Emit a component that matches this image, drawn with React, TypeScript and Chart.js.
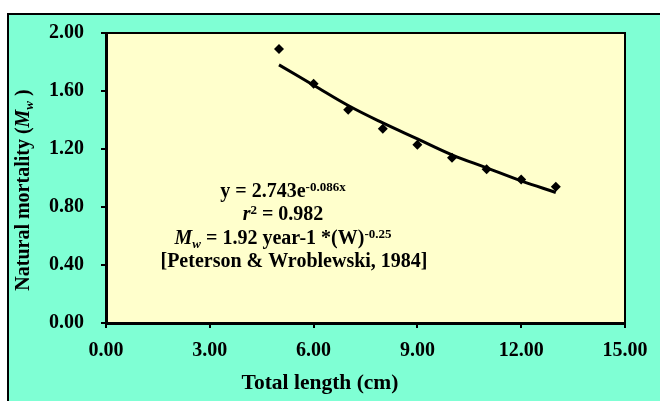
import React, { useEffect, useRef } from "react";
import { Chart, registerables } from "chart.js";

Chart.register(...registerables);

// ---- data ----
const lengths = [5, 6, 7, 8, 9, 10, 11, 12, 13];
const mortality = [1.89, 1.65, 1.47, 1.34, 1.23, 1.14, 1.06, 0.99, 0.94];
const trendFit = [1.78, 1.64, 1.5, 1.38, 1.27, 1.16, 1.07, 0.98, 0.9];
const xTicks = [0, 3, 6, 9, 12, 15];
const yTicks = [0, 0.4, 0.8, 1.2, 1.6, 2.0];
const xTitle = "Total length (cm)";
const yTitleMain = "Natural mortality (";
const annotation4 = "[Peterson & Wroblewski, 1984]";

const FAM = "'Liberation Serif', 'Times New Roman', serif";
const B = `bold 20px ${FAM}`;
const BX = `bold 21.5px ${FAM}`;
const BI = `italic bold 20px ${FAM}`;
const SUP = `bold 13px ${FAM}`;
const SUBI = `italic bold 13px ${FAM}`;

type Run = { t: string; f: string; dy?: number };

function drawRuns(ctx: CanvasRenderingContext2D, runs: Run[], cx: number, y: number) {
  let w = 0;
  for (const r of runs) {
    ctx.font = r.f;
    w += ctx.measureText(r.t).width;
  }
  let x = cx - w / 2;
  for (const r of runs) {
    ctx.font = r.f;
    ctx.fillText(r.t, x, y + (r.dy || 0));
    x += ctx.measureText(r.t).width;
  }
}

const decor = {
  id: "decor",
  beforeDraw(chart: any) {
    const { ctx, chartArea: ca } = chart;
    ctx.save();
    ctx.fillStyle = "#ffffff";
    ctx.fillRect(0, 0, chart.width, chart.height);
    ctx.fillStyle = "#7FFFD4";
    ctx.fillRect(8, 14, chart.width, chart.height);
    ctx.strokeStyle = "#000";
    ctx.lineWidth = 2;
    ctx.strokeRect(8, 14, chart.width + 20, chart.height + 20);
    ctx.fillStyle = "#FFFFCC";
    ctx.fillRect(ca.left, ca.top, ca.right - ca.left, ca.bottom - ca.top);
    ctx.restore();
  },
  afterDraw(chart: any) {
    const { ctx, chartArea: ca } = chart;
    ctx.save();
    ctx.strokeStyle = "#000";
    ctx.lineWidth = 2;
    ctx.beginPath();
    ctx.moveTo(ca.left, ca.top);
    ctx.lineTo(ca.right, ca.top);
    ctx.lineTo(ca.right, ca.bottom);
    ctx.stroke();

    ctx.fillStyle = "#000";
    ctx.textBaseline = "alphabetic";
    drawRuns(ctx, [{ t: "y = 2.743e", f: B }, { t: "-0.086x", f: SUP, dy: -6 }], 283, 197);
    drawRuns(ctx, [{ t: "r", f: BI }, { t: "2", f: SUP, dy: -6 }, { t: " = 0.982", f: B }], 283, 220);
    drawRuns(
      ctx,
      [
        { t: "M", f: BI },
        { t: "w", f: SUBI, dy: 4 },
        { t: " = 1.92 year-1 *(W)", f: B },
        { t: "-0.25", f: SUP, dy: -6 },
      ],
      283,
      244
    );
    drawRuns(ctx, [{ t: annotation4, f: B }], 294, 267);

    // axis titles
    drawRuns(ctx, [{ t: xTitle, f: BX }], 320, 389);
    ctx.translate(29, 190);
    ctx.rotate(-Math.PI / 2);
    drawRuns(
      ctx,
      [
        { t: yTitleMain, f: B },
        { t: "M", f: BI },
        { t: "w", f: SUBI, dy: 4 },
        { t: " )", f: B },
      ],
      0,
      0
    );
    ctx.restore();
  },
};

export default function App() {
  const ref = useRef<HTMLCanvasElement | null>(null);
  useEffect(() => {
    if (!ref.current) return;
    const tickFont = { family: FAM, size: 20, weight: "bold" as const };
    const chart = new Chart(ref.current, {
      type: "scatter",
      data: {
        datasets: [
          {
            type: "scatter",
            data: lengths.map((x, i) => ({ x, y: mortality[i] })),
            pointStyle: "rectRot",
            pointRadius: 5,
            backgroundColor: "#000",
            borderColor: "#000",
            borderWidth: 0,
          },
          {
            type: "line",
            data: lengths.map((x, i) => ({ x, y: trendFit[i] })),
            borderColor: "#000",
            borderWidth: 3,
            pointRadius: 0,
            tension: 0.4,
            fill: false,
          } as any,
        ],
      },
      options: {
        animation: false,
        responsive: false,
        devicePixelRatio: 1,
        layout: { padding: { left: 0, top: 33, right: 35, bottom: 0 } },
        plugins: { legend: { display: false }, tooltip: { enabled: false } },
        scales: {
          x: {
            type: "linear",
            min: 0,
            max: 15,
            afterBuildTicks: (s: any) => {
              s.ticks = xTicks.map((v) => ({ value: v }));
            },
            afterFit: (s: any) => {
              s.height = 78;
            },
            ticks: {
              callback: (v: any) => Number(v).toFixed(2),
              font: tickFont,
              color: "#000",
              padding: 11,
              maxRotation: 0,
              autoSkip: false,
            },
            grid: { drawOnChartArea: false, color: "#000", lineWidth: 2, tickLength: 5 },
            border: { color: "#000", width: 3 },
          },
          y: {
            type: "linear",
            min: 0,
            max: 2,
            afterBuildTicks: (s: any) => {
              s.ticks = yTicks.map((v) => ({ value: v }));
            },
            afterFit: (s: any) => {
              s.width = 106;
            },
            ticks: {
              callback: (v: any) => Number(v).toFixed(2),
              font: tickFont,
              color: "#000",
              padding: 17,
              autoSkip: false,
            },
            grid: { drawOnChartArea: false, color: "#000", lineWidth: 2, tickLength: 5 },
            border: { color: "#000", width: 3 },
          },
        },
      },
      plugins: [decor],
    });
    return () => chart.destroy();
  }, []);
  return (
    <div style={{ position: "fixed", left: 0, top: 0, width: 660, height: 401, overflow: "hidden" }}>
      <canvas ref={ref} width={660} height={401} style={{ display: "block", width: 660, height: 401 }} />
    </div>
  );
}
